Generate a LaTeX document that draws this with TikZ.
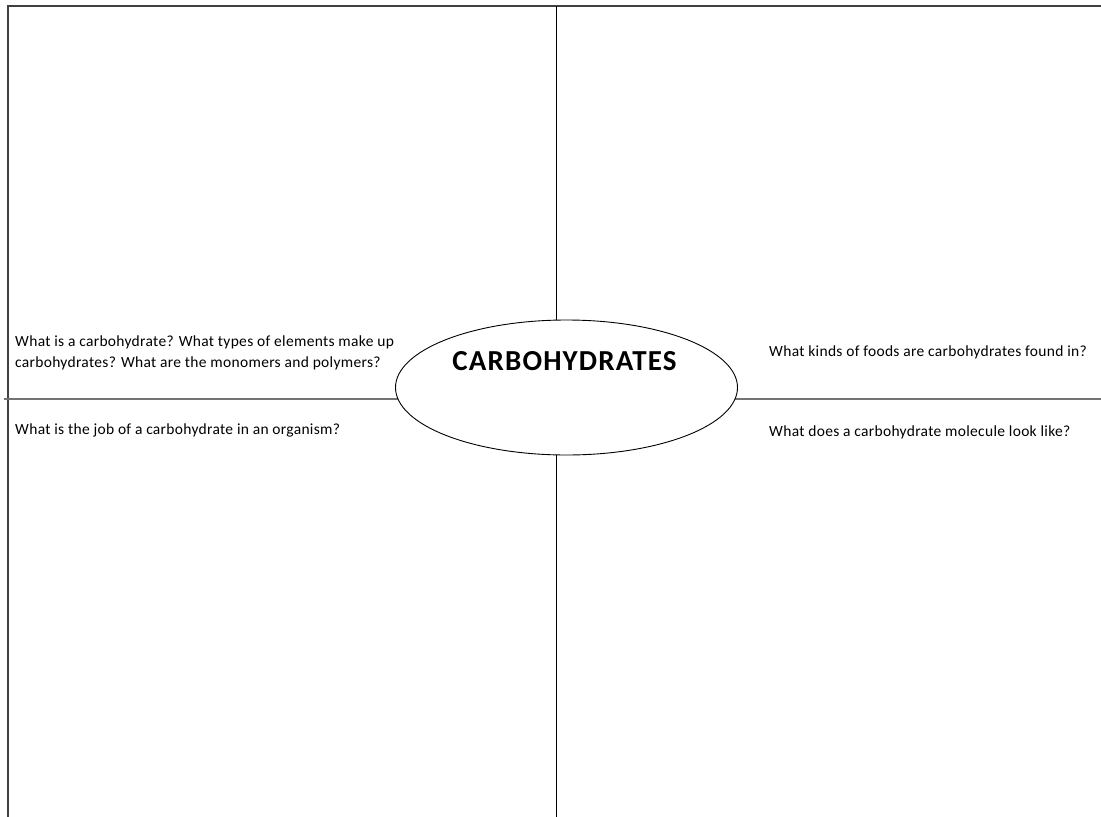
\documentclass[tikz,border=0pt]{standalone}
\usepackage{fontspec}
\setmainfont{Carlito}
\newfontfamily\qfont[LetterSpace=2]{Carlito}
\newfontfamily\tfont[LetterSpace=4]{Carlito}
\usetikzlibrary{shapes.geometric}
\begin{document}
\begin{tikzpicture}[x=1pt, y=-1pt,
    frame/.style={draw=black!75, line width=2pt},
    vdivider/.style={draw=black, line width=1.3pt},
    hdivider/.style={draw=black!55, line width=1.8pt},
    question/.style={anchor=west, align=left, inner sep=0pt,
        font=\qfont\fontsize{15.5}{21}\selectfont}]
    \useasboundingbox (0,0) rectangle (1101,817);
    % outer frame: only top and left edge are drawn
    \draw[frame] (1101,6) -- (7.5,6) -- (7.5,817);
    % dividers between the four quadrants
    \coordinate (topmid) at (556.5,6);
    \coordinate (botmid) at (556.5,817);
    \coordinate (leftmid) at (4,399);
    \coordinate (rightmid) at (1101,399);
    \draw[vdivider] (topmid) -- (botmid);
    \draw[hdivider] (leftmid) -- (rightmid);
    % centre ellipse and title
    \node[ellipse, draw, fill=white, line width=0.9pt, minimum width=342pt, minimum height=135pt] (hub) at (566.5,387.5) {};
    \node[font=\tfont\bfseries\fontsize{29}{31}\selectfont] (title) at (564.5,361) {CARBOHYDRATES};
    % questions, one pair each side
    \node[question] (q1) at (15,352.5) {What is a carbohydrate? What types of elements make up\\carbohydrates? What are the monomers and polymers?};
    \node[question] (q2) at (15,430) {What is the job of a carbohydrate in an organism?};
    \node[question] (q3) at (769,352) {What kinds of foods are carbohydrates found in?};
    \node[question] (q4) at (769,432) {What does a carbohydrate molecule look like?};
\end{tikzpicture}
\end{document}
